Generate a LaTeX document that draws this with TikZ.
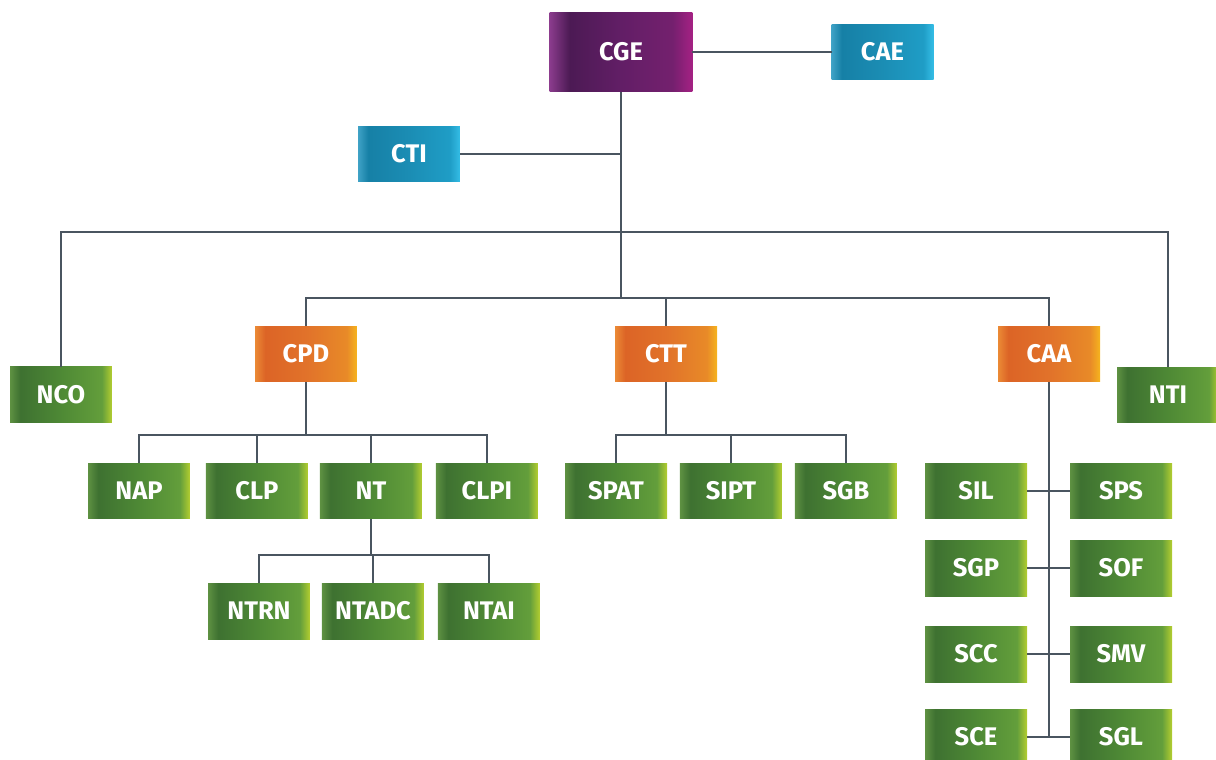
\documentclass[tikz,border=0pt]{standalone}
\usepackage{fontspec}
\setmainfont{Fira Sans}
\usepackage{tikz}
\usetikzlibrary{positioning}

% Colores
\definecolor{linea}{HTML}{4A5560}
\definecolor{verdeA}{HTML}{5E9142}
\definecolor{verdeB}{HTML}{3E7131}
\definecolor{verdeC}{HTML}{4E8935}
\definecolor{verdeD}{HTML}{639E3B}
\definecolor{verdeE}{HTML}{B4CE30}
\definecolor{naranjaA}{HTML}{EB8A35}
\definecolor{naranjaB}{HTML}{DC6426}
\definecolor{naranjaC}{HTML}{E1722A}
\definecolor{naranjaD}{HTML}{E88A28}
\definecolor{naranjaE}{HTML}{F6B41E}
\definecolor{moradoA}{HTML}{8B3C8D}
\definecolor{moradoB}{HTML}{4C1A54}
\definecolor{moradoC}{HTML}{621E66}
\definecolor{moradoD}{HTML}{74206E}
\definecolor{moradoE}{HTML}{A52184}
\definecolor{azulA}{HTML}{3FA2C6}
\definecolor{azulB}{HTML}{1680A6}
\definecolor{azulC}{HTML}{1B8DB4}
\definecolor{azulD}{HTML}{1F9DC6}
\definecolor{azulE}{HTML}{34BDE6}

% Degradados (la caja ocupa de 25bp a 75bp)
\pgfdeclarehorizontalshading{sombraverde}{100bp}{color(0bp)=(verdeA); color(25bp)=(verdeA); color(30bp)=(verdeB); color(50bp)=(verdeC); color(70bp)=(verdeD); color(75bp)=(verdeE); color(100bp)=(verdeE)}
\pgfdeclarehorizontalshading{sombranaranja}{100bp}{color(0bp)=(naranjaA); color(25bp)=(naranjaA); color(30bp)=(naranjaB); color(50bp)=(naranjaC); color(70bp)=(naranjaD); color(75bp)=(naranjaE); color(100bp)=(naranjaE)}
\pgfdeclarehorizontalshading{sombramorada}{100bp}{color(0bp)=(moradoA); color(25bp)=(moradoA); color(32bp)=(moradoB); color(50bp)=(moradoC); color(68bp)=(moradoD); color(75bp)=(moradoE); color(100bp)=(moradoE)}
\pgfdeclarehorizontalshading{sombraazul}{100bp}{color(0bp)=(azulA); color(25bp)=(azulA); color(30bp)=(azulB); color(50bp)=(azulC); color(70bp)=(azulD); color(75bp)=(azulE); color(100bp)=(azulE)}

\tikzset{
    every path/.style={line width=1.1pt}, % grosor de las lineas de conexion
    caja/.style={rectangle, draw=none, minimum width=2.04cm, minimum height=1.12cm, text=white, font=\fontsize{14.5}{16}\selectfont\bfseries, inner sep=0pt, outer sep=0pt}, % cajas
    verde/.style={caja, shading=sombraverde},
    naranja/.style={caja, shading=sombranaranja},
    azul/.style={caja, shading=sombraazul},
    morado/.style={caja, shading=sombramorada, minimum width=2.86cm, minimum height=1.6cm}
}

\begin{document}
\begin{tikzpicture}[x=0.02cm, y=-0.02cm, color=linea]
		\useasboundingbox (0,0) rectangle (1216,760);

		% Direccion
		\node[morado] (CGE) at (621,52) {CGE};
		\node[azul] (CAE) at (882.5,52) {CAE};
		\node[azul] (CTI) at (409,154) {CTI};

		% Segundo nivel
		\node[verde] (NCO) at (61,394.5) {NCO};
		\node[verde] (NTI) at (1168,395) {NTI};
		\node[naranja] (CPD) at (306,354) {CPD};
		\node[naranja] (CTT) at (666,354) {CTT};
		\node[naranja] (CAA) at (1049,354) {CAA};

		% Hijos de CPD
		\node[verde] (NAP) at (139,491) {NAP};
		\node[verde, right=0.32cm of NAP] (CLP) {CLP};
		\node[verde, right=0.24cm of CLP] (NT) {NT};
		\node[verde, right=0.28cm of NT] (CLPI) {CLPI};

		% Hijos de NT
		\node[verde] (NTRN) at (259,611) {NTRN};
		\node[verde, right=0.24cm of NTRN] (NTADC) {NTADC};
		\node[verde, right=0.28cm of NTADC] (NTAI) {NTAI};

		% Hijos de CTT
		\node[verde] (SPAT) at (616,491) {SPAT};
		\node[verde, right=0.26cm of SPAT] (SIPT) {SIPT};
		\node[verde, right=0.26cm of SIPT] (SGB) {SGB};

		% Hijos de CAA
		\node[verde] (SIL) at (976,491) {SIL};
		\node[verde] (SPS) at (1121,491) {SPS};
		\node[verde] (SGP) at (976,568) {SGP};
		\node[verde] (SOF) at (1121,568) {SOF};
		\node[verde] (SCC) at (976,654) {SCC};
		\node[verde] (SMV) at (1121,654) {SMV};
		\node[verde] (SCE) at (976,737) {SCE};
		\node[verde] (SGL) at (1121,737) {SGL};

		% Puntos de union
		\coordinate (bus1) at (621,232);
		\coordinate (bus2) at (621,298);
		\coordinate (bus3) at (306,435);
		\coordinate (bus4) at (NT |- 0,555);
		\coordinate (bus5) at (666,435);
		\coordinate (bus6) at (1049,737);

		% Conexiones
		\draw (CGE) -- (CAE);
		\draw (CGE) -- (bus2);
		\draw (CTI) -- (CTI -| CGE);
		\draw (NCO) |- (bus1) -| (NTI);
		\draw (CPD) |- (bus2) -| (CAA);
		\draw (CTT) -- (CTT |- bus2);
		\draw (CPD) -- (bus3);
		\foreach \n in {NAP, CLP, NT, CLPI}
			\draw (\n) |- (bus3);
		\draw (NT) -- (bus4);
		\foreach \n in {NTRN, NTADC, NTAI}
			\draw (\n) |- (bus4);
		\draw (CTT) -- (bus5);
		\foreach \n in {SPAT, SIPT, SGB}
			\draw (\n) |- (bus5);
		\draw (CAA) -- (bus6);
		\draw (SIL) -- (SPS);
		\draw (SGP) -- (SOF);
		\draw (SCC) -- (SMV);
		\draw (SCE) -- (SGL);
	\end{tikzpicture}
\end{document}
